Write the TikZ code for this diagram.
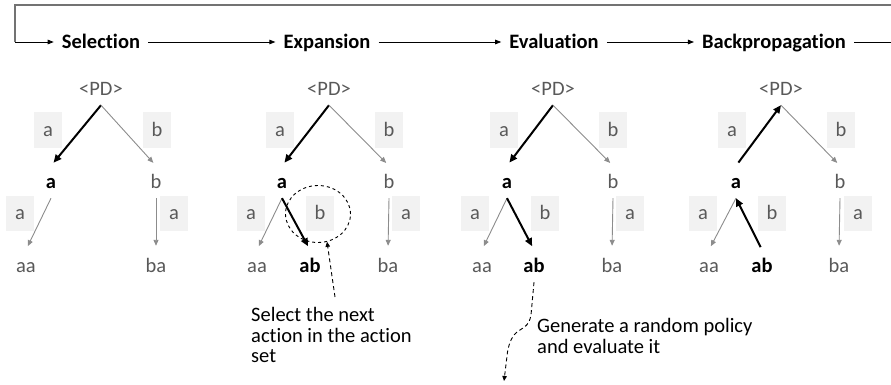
\documentclass[tikz,border=0pt]{standalone}
\usepackage{fontspec}
\setmainfont{Carlito}[Ligatures=CommonOff]
\usetikzlibrary{arrows.meta,shapes.geometric,calc}

\definecolor{labelgray}{rgb}{0.350000, 0.350000, 0.350000}
\definecolor{boxgray}{rgb}{0.949000, 0.949000, 0.949000}
\definecolor{edgegray}{rgb}{0.550000, 0.550000, 0.550000}
\definecolor{framegray}{rgb}{0.450000, 0.450000, 0.450000}

\begin{document}
\begin{tikzpicture}[x=1pt,y=-1pt,
  font=\fontsize{20.5}{20.7}\selectfont,
  treenode/.style={inner sep=0pt,minimum height=32pt,text height=13pt,text depth=0pt,text=labelgray},
  treebold/.style={treenode,text=black,font=\fontsize{20.5}{20.7}\selectfont\bfseries},
  actlabel/.style={fill=boxgray,text=labelgray,inner sep=0pt,minimum width=28pt,minimum height=35pt,text height=13pt,text depth=0pt},
  header/.style={inner xsep=8pt,inner ysep=0pt,text height=13pt,text depth=0pt,font=\fontsize{20.5}{20.7}\selectfont\bfseries},
  flowarrow/.style={-{Triangle[length=6pt,width=4.5pt]},line width=0.8pt},
  thinedge/.style={-{Triangle[length=6pt,width=5pt]},draw=edgegray,line width=0.9pt,shorten >=4pt},
  boldedge/.style={-{Triangle[length=8pt,width=7pt]},line width=2pt,shorten >=4pt},
  backedge/.style={-{Triangle[length=8pt,width=7pt]},line width=2pt},
  noteline/.style={dash pattern=on 4pt off 3pt,line width=0.9pt,-{Triangle[length=5pt,width=4.5pt]}}
]
\useasboundingbox (0,0) rectangle (891,385);

% phase headers
\node[header] (sel) at (101,42) {Selection};
\node[header] (exp) at (327,42) {Expansion};
\node[header] (eva) at (554,42) {Evaluation};
\node[header] (back) at (774,42) {Backpropagation};
\coordinate (loopL) at (15,42);
\coordinate (loopTL) at (15,5);
\coordinate (loopTR) at (891,5);
\coordinate (loopR) at (891,42);
\draw[draw=framegray,line width=1.5pt] (loopTR) -- (loopTL) -- (loopL);
\draw[flowarrow] (loopL) -- (sel.west);
\draw[flowarrow] (sel.east) -- (exp.west);
\draw[flowarrow] (exp.east) -- (eva.west);
\draw[flowarrow] (eva.east) -- (back.west);
\draw[line width=0.8pt] (back.east) -- (loopR);

% tree 1: selection
\node[treenode] (pd1) at (101,89) {<PD>};
\node[treebold] (a1) at (51,182) {a};
\node[treenode] (b1) at (156,182) {b};
\node[treenode] (aa1) at (26,266) {aa};
\node[treenode] (ba1) at (156,266) {ba};
\node[actlabel] at (48,130) {a};
\node[actlabel] at (157,130) {b};
\node[actlabel] at (20,213) {a};
\node[actlabel] at (174,213) {a};
\draw[boldedge] (pd1.south) -- (a1.north);
\draw[thinedge] (pd1.south) -- (b1.north);
\draw[thinedge] (a1.south) -- (aa1.north);
\draw[thinedge] (b1.south) -- (ba1.north);

% tree 2: expansion
\node[treenode] (pd2) at (329,89) {<PD>};
\node[treebold] (a2) at (282,182) {a};
\node[treenode] (b2) at (389,182) {b};
\node[treenode] (aa2) at (257,266) {aa};
\node[treebold] (ab2) at (310,266) {ab};
\node[treenode] (ba2) at (388,266) {ba};
\node[actlabel] at (280,130) {a};
\node[actlabel] at (389,130) {b};
\node[actlabel] at (251,213) {a};
\node[actlabel] at (320,213) {b};
\node[actlabel] at (406,213) {a};
\draw[boldedge] (pd2.south) -- (a2.north);
\draw[thinedge] (pd2.south) -- (b2.north);
\draw[thinedge] (a2.south) -- (aa2.north);
\draw[boldedge] (a2.south) -- (ab2.north);
\draw[thinedge] (b2.south) -- (ba2.north);
\node[draw,dashed,line width=0.9pt,ellipse,minimum width=65pt,minimum height=57pt] (focus) at (318,214) {};
\node[anchor=north west,align=left,inner sep=0pt] (selnote) at (251,307) {Select the next\\action in the action\\set};
\draw[noteline] ($(selnote.north west)+(84,-10)$) -- (focus.-72);

% tree 3: evaluation
\node[treenode] (pd3) at (553,89) {<PD>};
\node[treebold] (a3) at (507,182) {a};
\node[treenode] (b3) at (613,182) {b};
\node[treenode] (aa3) at (482,266) {aa};
\node[treebold] (ab3) at (534,266) {ab};
\node[treenode] (ba3) at (612,266) {ba};
\node[actlabel] at (504,130) {a};
\node[actlabel] at (613,130) {b};
\node[actlabel] at (475,213) {a};
\node[actlabel] at (545,213) {b};
\node[actlabel] at (630,213) {a};
\draw[boldedge] (pd3.south) -- (a3.north);
\draw[thinedge] (pd3.south) -- (b3.north);
\draw[thinedge] (a3.south) -- (aa3.north);
\draw[boldedge] (a3.south) -- (ab3.north);
\draw[thinedge] (b3.south) -- (ba3.north);
\node[anchor=north west,align=left,inner sep=0pt] (evalnote) at (537,318) {Generate a random policy\\and evaluate it};
\coordinate (evalend) at (504,381);
\draw[noteline] (ab3.south) -- (531,315) .. controls (529,327) and (522,328) .. (517,332) .. controls (511,337) and (508,346) .. (507,356) -- (evalend);

% tree 4: backpropagation
\node[treenode] (pd4) at (781,89) {<PD>};
\node[treebold] (a4) at (736,182) {a};
\node[treenode] (b4) at (840,182) {b};
\node[treenode] (aa4) at (709,266) {aa};
\node[treebold] (ab4) at (762,266) {ab};
\node[treenode] (ba4) at (839,266) {ba};
\node[actlabel] at (732,130) {a};
\node[actlabel] at (841,130) {b};
\node[actlabel] at (703,213) {a};
\node[actlabel] at (772,213) {b};
\node[actlabel] at (858,213) {a};
\draw[backedge,shorten <=4pt] (a4.north) -- (pd4.south);
\draw[thinedge] (pd4.south) -- (b4.north);
\draw[thinedge] (a4.south) -- (aa4.north);
\draw[backedge,shorten <=3pt] (ab4.north) -- (a4.south);
\draw[thinedge] (b4.south) -- (ba4.north);
\end{tikzpicture}
\end{document}
